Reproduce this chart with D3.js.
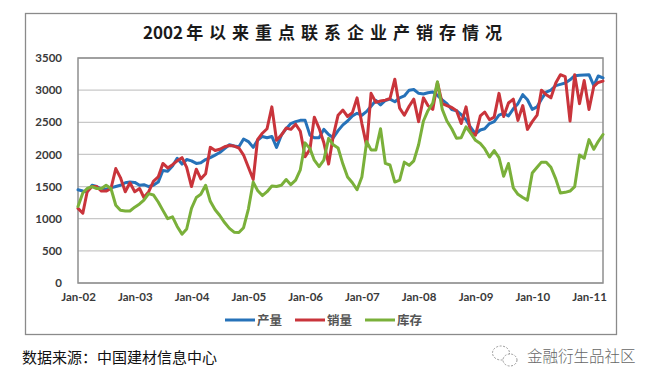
<!DOCTYPE html>
<html>
<head>
<meta charset="utf-8">
<style>
body { margin: 0; background: #fff; }
svg { display: block; }
.axis text { font-family: Lato, "Open Sans", sans-serif; font-weight: bold; font-size: 11.5px; fill: #3a3a3a; }
.axis .domain { display: none; }
.grid line { stroke: #c8c8c8; stroke-width: 1.3; }
.series { fill: none; stroke-width: 3; stroke-linejoin: round; stroke-linecap: round; }
</style>
</head>
<body>
<svg width="657" height="384"></svg>
<script src="https://d3js.org/d3.v7.min.js"></script>
<script>

// monthly data, Jan-02 .. Apr-11
var output = [
  1450, 1430, 1420, 1520, 1500, 1460, 1460, 1480, 1500, 1520, 1560, 1570,
  1565, 1520, 1530, 1500, 1520, 1570, 1750, 1740, 1820, 1940, 1850, 1920,
  1900, 1860, 1870, 1920, 1950, 1990, 2030, 2090, 2150, 2130, 2120, 2240,
  2200, 2110, 2220, 2280, 2260, 2280, 2110, 2300, 2400, 2480, 2510, 2530,
  2530, 2300, 2260, 2260, 2390, 2310, 2260, 2370, 2460, 2520, 2600, 2640,
  2610, 2670, 2750, 2840, 2770, 2840, 2860, 2820, 2880, 2910, 3000, 3010,
  2950, 2940, 2960, 2970, 2920, 2850, 2790, 2700, 2680, 2620, 2540, 2420,
  2320, 2380, 2400, 2480, 2510, 2610, 2640, 2600, 2710, 2790, 2930, 2850,
  2700, 2740, 2860, 2970, 3000, 3070, 3090, 3110, 3160, 3225, 3230, 3235,
  3240, 3070, 3220, 3190
];
var sales = [
  1160, 1085, 1420, 1500, 1500, 1430, 1430, 1470, 1780, 1640, 1420, 1560,
  1420, 1470, 1330, 1420, 1580, 1650, 1860, 1790, 1840, 1900, 1950, 1800,
  1500, 1770, 1620, 1700, 2110, 2060, 2080, 2120, 2140, 2130, 2100, 1990,
  1800, 1610, 2230, 2330, 2400, 2740, 2220, 2300, 2410, 2390, 2470, 2360,
  1965, 2080, 2580, 2406, 2185, 1850, 2290, 2610, 2690, 2590, 2650, 2880,
  2480, 2130, 2950, 2810, 2830, 2845, 2870, 3170, 2720, 2610, 2750, 2860,
  2510, 2880, 2760, 2700, 3120, 2790, 2760, 2730, 2680, 2480, 2740, 2340,
  2300, 2600, 2660, 2540, 2580, 2950, 2590, 2800, 2860, 2530, 2760, 2390,
  2510, 2610, 3000, 2930, 2880, 3110, 3240, 3210, 2520, 3240, 2790, 3150,
  2700, 3060, 3120, 3140
];
var stock = [
  1190, 1400, 1470, 1500, 1470, 1470, 1520, 1470, 1210, 1130, 1120, 1120,
  1180, 1230, 1290, 1390, 1370, 1260, 1130, 1000, 1030, 880, 760, 840,
  1160, 1330, 1380, 1520, 1270, 1140, 1050, 940, 850, 790, 785, 860,
  1150, 1570, 1440, 1360, 1420, 1510, 1500, 1520, 1610, 1530, 1600, 1760,
  2180, 2090, 1910, 1810, 1910, 2250, 2150, 2100, 1850, 1650, 1560, 1450,
  1650, 2200, 2070, 2070, 2400, 1860, 1835, 1570, 1600, 1880, 1830, 1900,
  2150, 2520, 2680, 2800, 3130, 2700, 2520, 2400, 2250, 2260, 2430, 2330,
  2220, 2170, 2090, 1960, 2060, 1950, 1660, 1860, 1480, 1380, 1330, 1290,
  1710, 1800, 1880, 1880, 1800, 1620, 1400, 1410, 1430, 1500, 1990, 1940,
  2230, 2080, 2200, 2310
];

var seriesNames = ["产量", "销量", "库存"];
var seriesColors = ["#2672b9", "#c9343b", "#7ab03a"];
var yTicks = [0, 500, 1000, 1500, 2000, 2500, 3000, 3500];
var xTickLabels = ["Jan-02", "Jan-03", "Jan-04", "Jan-05", "Jan-06", "Jan-07", "Jan-08", "Jan-09", "Jan-10", "Jan-11"];

var svg = d3.select("svg"),
    margin = {top: 58, right: 54, bottom: 101, left: 78},
    width = +svg.attr("width") - margin.left - margin.right,
    height = +svg.attr("height") - margin.top - margin.bottom;

var parseMonth = d3.timeParse("%b-%y");
var start = new Date(2002, 0, 1);
var dates = d3.timeMonth.range(start, d3.timeMonth.offset(start, output.length));

var x = d3.scaleTime().domain([dates[0], dates[dates.length - 1]]).range([0, width]),
    y = d3.scaleLinear().domain([0, 3500]).range([height, 0]);

// outer frame
svg.append("rect")
    .attr("x", 25.5).attr("y", 13.5)
    .attr("width", 591).attr("height", 321)
    .attr("fill", "none")
    .attr("stroke", "#8a8a8a")
    .attr("stroke-width", 1.3);

svg.append("text")
    .attr("x", 143).attr("y", 39)
    .style("font-family", "'Noto Sans CJK SC', sans-serif")
    .style("font-weight", "bold")
    .style("font-size", "17px")
    .style("fill", "#1a1a1a")
  .call(function(t) {
    t.append("tspan").text("2002");
    t.append("tspan").attr("dx", 3).style("letter-spacing", "6px").text("年以来重点联系企业产销存情况");
  });

var g = svg.append("g")
    .attr("transform", "translate(" + margin.left + "," + margin.top + ")");

g.append("g")
    .attr("class", "grid")
  .selectAll("line")
  .data(yTicks)
  .enter().append("line")
    .attr("x1", 0).attr("x2", width)
    .attr("y1", function(d) { return y(d); })
    .attr("y2", function(d) { return y(d); });

g.append("rect")
    .attr("width", width).attr("height", height)
    .attr("fill", "none")
    .attr("stroke", "#8f8f8f")
    .attr("stroke-width", 1.5);

g.append("g")
    .attr("class", "axis axis--y")
    .call(d3.axisLeft(y).tickValues(yTicks).tickFormat(d3.format("d")).tickSize(0).tickPadding(16));

g.append("g")
    .attr("class", "axis axis--x")
    .attr("transform", "translate(0," + height + ")")
    .call(d3.axisBottom(x)
      .tickValues(xTickLabels.map(parseMonth))
      .tickFormat(function(d, i) { return xTickLabels[i]; })
      .tickSize(0).tickPadding(10));

var line = d3.line()
    .x(function(d, i) { return x(dates[i]); })
    .y(function(d) { return y(d); });

var allSeries = [output, sales, stock];

g.selectAll(".series")
  .data(allSeries)
  .enter().append("path")
    .attr("class", "series")
    .attr("stroke", function(d, i) { return seriesColors[i]; })
    .attr("d", line);

// legend
var legend = svg.append("g")
    .attr("transform", "translate(225,320)")
  .selectAll("g")
  .data(seriesNames)
  .enter().append("g")
    .attr("transform", function(d, i) { return "translate(" + (i * 70) + ",0)"; });

legend.append("line")
    .attr("x1", 0).attr("x2", 30)
    .attr("stroke", function(d, i) { return seriesColors[i]; })
    .attr("stroke-width", 3);

legend.append("text")
    .attr("x", 32).attr("dy", "0.36em")
    .style("font-family", "'Noto Sans CJK SC', sans-serif")
    .style("font-weight", "bold")
    .style("font-size", "12.5px")
    .style("fill", "#555")
    .text(function(d) { return d; });

svg.append("text")
    .attr("x", 22).attr("y", 363)
    .style("font-family", "'Noto Sans CJK SC', sans-serif")
    .style("font-size", "15px")
    .style("fill", "#111")
    .text("数据来源：中国建材信息中心");

// watermark
var wm = svg.append("g").attr("fill", "none").attr("stroke", "#9a9a9a").attr("stroke-width", 1).attr("stroke-dasharray", "2,1.5");
wm.append("ellipse").attr("cx", 501).attr("cy", 353).attr("rx", 8.5).attr("ry", 7);
wm.append("ellipse").attr("cx", 510).attr("cy", 360).attr("rx", 7).attr("ry", 6).attr("fill", "#fff");

svg.append("text")
    .attr("x", 527).attr("y", 362)
    .style("font-family", "'Noto Sans CJK SC', sans-serif")
    .style("font-weight", "300")
    .style("font-size", "15.5px")
    .style("fill", "#666")
    .text("金融衍生品社区");

</script>
</body>
</html>
